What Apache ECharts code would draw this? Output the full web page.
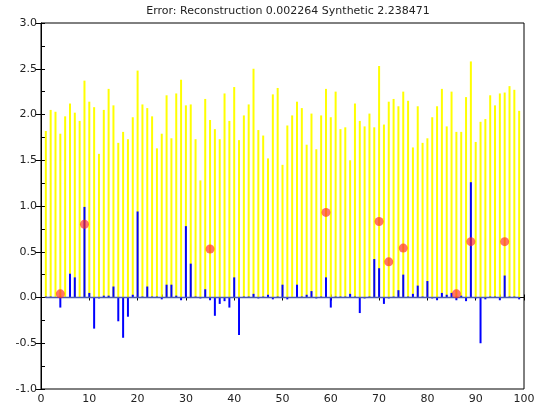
<!DOCTYPE html>
<html>
<head>
<meta charset="utf-8">
<script src="https://cdn.jsdelivr.net/npm/echarts@6/dist/echarts.min.js"></script>
<style>
  html, body { margin: 0; padding: 0; background: #fff; }
  #main { width: 535px; height: 415px; }
</style>
</head>
<body>
<div id="main"></div>
<script>
// stems sit at x = 1..99
var synth = [1.82,2.05,2.03,1.79,1.98,2.12,2.02,1.93,2.37,2.14,
             2.08,1.57,2.05,2.28,2.10,1.69,1.81,1.73,1.97,2.48,
             2.11,2.07,1.98,1.63,1.79,2.21,1.74,2.23,2.38,2.10,
             2.11,1.73,1.28,2.17,1.94,1.84,1.73,2.23,1.93,2.30,
             1.72,1.99,2.11,2.50,1.83,1.77,1.52,2.22,2.29,1.45,
             1.88,1.99,2.14,2.07,1.67,2.01,1.62,1.99,2.28,1.97,
             2.25,1.84,1.86,1.50,2.12,1.93,1.87,2.01,1.86,2.53,
             1.89,2.14,2.17,2.09,2.25,2.15,1.64,2.09,1.69,1.74,
             1.97,2.09,2.28,1.87,2.25,1.81,1.81,2.19,2.58,1.70,
             1.92,1.95,2.21,2.10,2.23,2.24,2.31,2.27,2.04];
var recon = [0.01,0.01,0,-0.11,0,0.26,0.22,0,0.99,0.05,
             -0.34,-0.01,0.02,0.02,0.12,-0.26,-0.44,-0.21,0.03,0.94,
             0.01,0.12,0.01,0.01,-0.02,0.14,0.14,0.02,-0.03,0.78,
             0.37,0.01,-0.01,0.09,-0.03,-0.20,-0.07,-0.04,-0.11,0.22,
             -0.41,0.01,0.01,0.04,-0.01,0.01,0.03,-0.02,0.01,0.14,
             -0.02,0,0.14,0.01,0.03,0.07,-0.01,0.01,0.22,-0.11,
             0.01,0.01,0.01,0.04,0.01,-0.17,-0.01,0.01,0.42,0.32,
             -0.07,-0.01,0.01,0.08,0.25,0.01,0.04,0.13,0.01,0.18,
             -0.01,-0.03,0.05,0.03,0.05,-0.03,0.02,-0.04,1.26,-0.01,
             -0.50,-0.02,0.01,0.01,-0.03,0.24,0.01,0.01,-0.02];
// true spikes
var spikeX = [4, 9, 35, 59, 70, 72, 75, 86, 89, 96];
var spikeY = [0.04, 0.80, 0.53, 0.93, 0.83, 0.39, 0.54, 0.04, 0.61, 0.61];

var font = 'DejaVu Sans';
var synthData = synth.map(function (v, i) { return [i + 1, v]; });
var reconData = recon.map(function (v, i) { return [i + 1, v]; });
var spikeData = spikeX.map(function (x, i) { return [x, spikeY[i]]; });

var chart = echarts.init(document.getElementById('main'));
chart.setOption({
    animation: false,
    backgroundColor: '#fff',
    title: {
        text: 'Error: Reconstruction 0.002264 Synthetic 2.238471',
        left: 283,
        top: 1,
        textAlign: 'center',
        textStyle: { fontFamily: font, fontSize: 11, fontWeight: 'normal', color: '#222' }
    },
    grid: {
        left: 41, right: 11, top: 23, bottom: 26,
        outerBoundsMode: 'none',
        show: true, borderColor: '#000', borderWidth: 1, backgroundColor: '#fff'
    },
    xAxis: [{
        type: 'value', min: 0, max: 100, interval: 10, position: 'bottom',
        splitLine: { show: false },
        axisLine: { show: true, lineStyle: { color: '#000' } },
        axisTick: { show: true, length: 3, lineStyle: { color: '#000' } },
        axisLabel: { fontFamily: font, fontSize: 11, color: '#222', margin: 5 }
    }, {
        type: 'value', min: 0, max: 100, interval: 5, position: 'bottom',
        splitLine: { show: false },
        axisLine: { show: false },
        axisTick: { show: true, inside: true, length: 3, lineStyle: { color: '#000' } },
        axisLabel: { show: false }
    }],
    yAxis: [{
        type: 'value', min: -1, max: 3, interval: 0.5, position: 'left',
        splitLine: { show: false },
        axisLine: { show: true, lineStyle: { color: '#000' } },
        axisTick: { show: true, length: 5, lineStyle: { color: '#000' } },
        axisLabel: {
            fontFamily: font, fontSize: 11, color: '#222', margin: 4,
            formatter: function (v) { return v.toFixed(1); }
        }
    }, {
        type: 'value', min: -1, max: 3, interval: 0.25, position: 'left',
        splitLine: { show: false },
        axisLine: { show: false },
        axisTick: { show: true, inside: true, length: 4, lineStyle: { color: '#000' } },
        axisLabel: { show: false }
    }],
    series: [{
        type: 'bar', name: 'synthetic', data: synthData, barWidth: 2, barGap: '-100%',
        itemStyle: { color: '#ffff00' }, z: 2
    }, {
        type: 'bar', name: 'reconstruction', data: reconData, barWidth: 2, barGap: '-100%',
        itemStyle: { color: '#0000ff' }, z: 3
    }, {
        type: 'line', data: [[1, 0], [99, 0]], symbol: 'none',
        lineStyle: { color: '#4a5ab4', width: 1.5 }, z: 4
    }, {
        type: 'scatter', name: 'spikes', data: spikeData, symbol: 'circle', symbolSize: 9,
        itemStyle: { color: 'rgba(255,40,35,0.82)' }, z: 5
    }]
});
</script>
</body>
</html>
